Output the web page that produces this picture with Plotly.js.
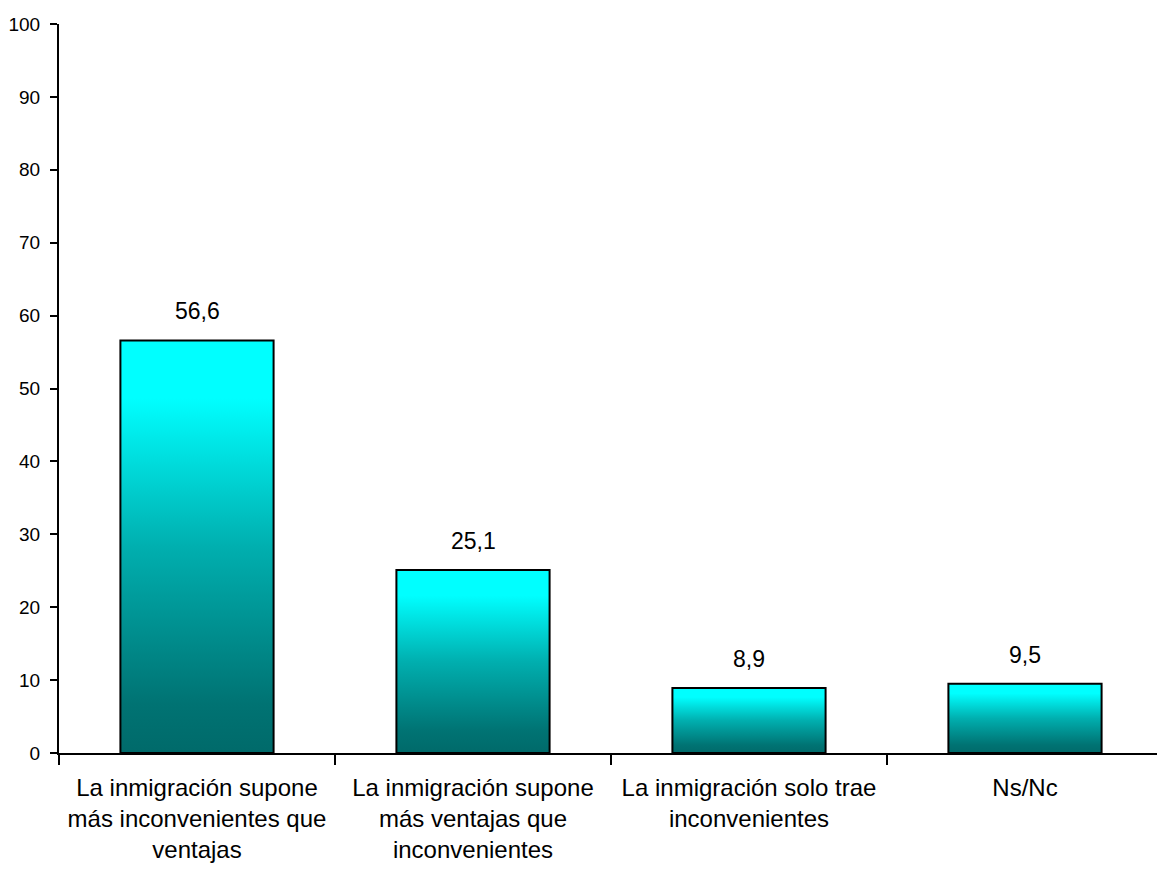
<!DOCTYPE html>
<html>
<head>
<meta charset="utf-8">
<script src="https://cdn.plot.ly/plotly-3.0.1.min.js"></script>
<style>
html, body { margin: 0; padding: 0; overflow: hidden; background: #fff; }
#chart { width: 1170px; height: 876px; }
</style>
</head>
<body>
<div id="chart"></div>
<script>
var categories = [
  "La inmigración supone<br>más inconvenientes que<br>ventajas",
  "La inmigración supone<br>más ventajas que<br>inconvenientes",
  "La inmigración solo trae<br>inconvenientes",
  "Ns/Nc"
];
var values = [56.6, 25.1, 8.9, 9.5];
var valueLabels = ["56,6", "25,1", "8,9", "9,5"];

var barWidth = 0.555;
var FONT = "Liberation Sans, Arial, sans-serif";
var gradient = [
  [0, "#006a6a"],
  [0.12, "#007373"],
  [0.5, "#00afaf"],
  [0.75, "#00e6e6"],
  [0.86, "#00ffff"],
  [1, "#00ffff"]
];

var traces = [];
traces.push({
  type: "bar",
  x: categories,
  y: values,
  width: barWidth,
  marker: { color: "rgba(0,0,0,0)", line: { width: 0 } },
  hoverinfo: "skip",
  showlegend: false
});
values.forEach(function (v, i) {
  var x0 = i - barWidth / 2, x1 = i + barWidth / 2;
  traces.push({
    type: "scatter",
    xaxis: "x2",
    x: [x0, x0, x1, x1, x0],
    y: [0, v, v, 0, 0],
    mode: "lines",
    fill: "toself",
    fillgradient: { type: "vertical", colorscale: gradient },
    line: { color: "#000", width: 2 },
    hoverinfo: "skip",
    showlegend: false
  });
});

var annotations = values.map(function (v, i) {
  return {
    xref: "x2", yref: "y",
    x: i, y: v,
    text: valueLabels[i],
    showarrow: false,
    yanchor: "bottom",
    yshift: 14,
    font: { family: FONT, size: 23, color: "#000" }
  };
});

var layout = {
  width: 1170,
  height: 876,
  margin: { l: 59, r: 7, t: 24, b: 123 },
  paper_bgcolor: "#fff",
  plot_bgcolor: "#fff",
  showlegend: false,
  font: { family: FONT, color: "#000" },
  xaxis: {
    type: "category",
    range: [-0.5, 3.5],
    showline: true,
    linecolor: "#000",
    linewidth: 2,
    ticks: "outside",
    tickson: "boundaries",
    ticklen: 10,
    tickwidth: 2,
    tickcolor: "#000",
    tickangle: 0,
    showgrid: false,
    zeroline: false,
    ticklabelstandoff: 12,
    tickfont: { family: FONT, size: 24, color: "#000" },
    fixedrange: true
  },
  xaxis2: {
    overlaying: "x",
    range: [-0.5, 3.5],
    visible: false,
    fixedrange: true
  },
  yaxis: {
    range: [0, 100],
    dtick: 10,
    tick0: 0,
    showline: true,
    linecolor: "#000",
    linewidth: 2,
    ticks: "outside",
    ticklen: 7,
    tickwidth: 2,
    tickcolor: "#000",
    showgrid: false,
    zeroline: false,
    ticklabelstandoff: 6,
    tickfont: { family: FONT, size: 19, color: "#000" },
    fixedrange: true
  },
  annotations: annotations
};

Plotly.newPlot("chart", traces, layout, { displayModeBar: false, staticPlot: true });
</script>
</body>
</html>
